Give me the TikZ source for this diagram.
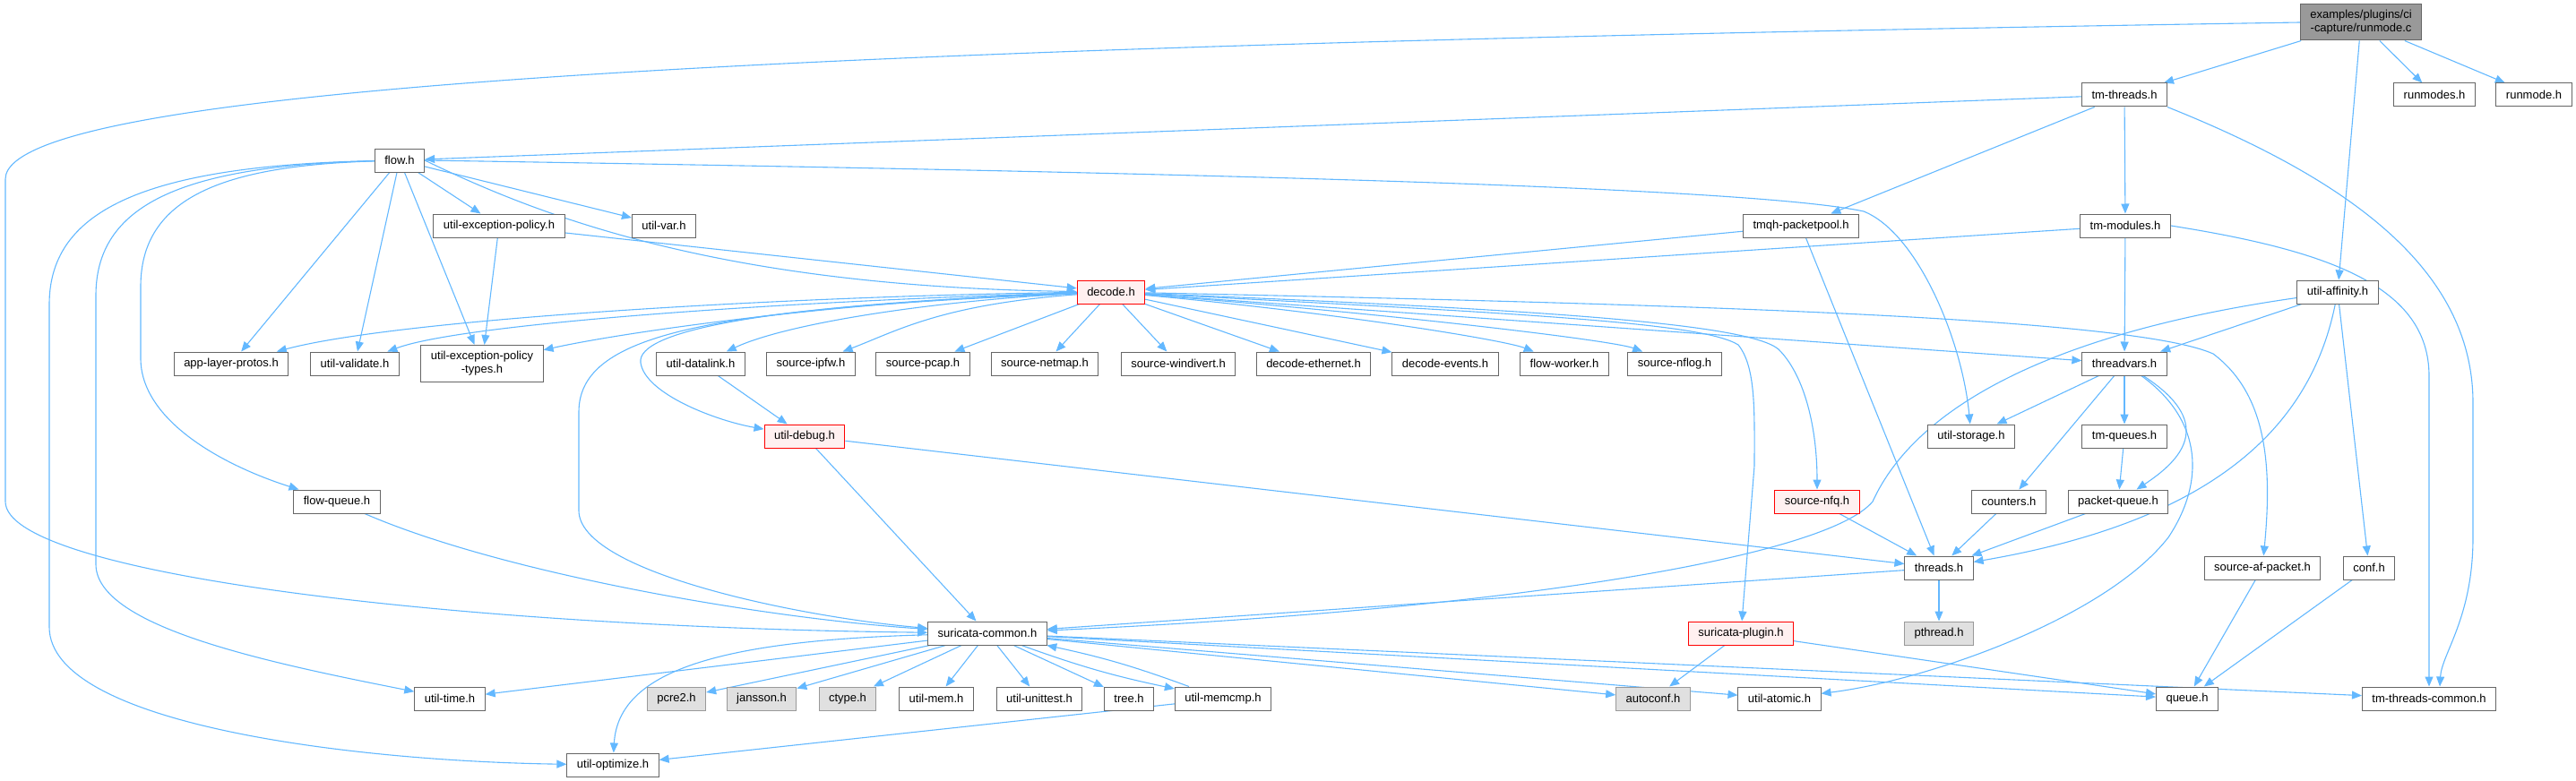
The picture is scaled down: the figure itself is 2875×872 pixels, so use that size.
\documentclass[tikz,border=0pt]{standalone}
\usepackage{fontspec}
\setmainfont{Liberation Sans}
\usepackage{tikz}
\usetikzlibrary{arrows.meta}
\usetikzlibrary{backgrounds}
\usepackage{xcolor}
\definecolor{ColEdge}{RGB}{99,184,255}
\definecolor{ColLine}{RGB}{102,102,102}
\definecolor{ColSys}{RGB}{224,224,224}
\definecolor{ColSysLine}{RGB}{153,153,153}
\definecolor{ColMark}{RGB}{255,240,240}
\tikzstyle{FileNode}=[draw=ColLine,fill=white,line width=0.5pt,inner xsep=5.5pt,inner ysep=0pt,
minimum height=13pt,align=center,font=\fontsize{6.5}{7.5}\selectfont]
\tikzstyle{SysNode}=[FileNode,draw=ColSysLine,fill=ColSys]
\tikzstyle{MarkNode}=[FileNode,draw=red,fill=ColMark]
\tikzstyle{RootNode}=[FileNode,fill=ColSysLine,minimum height=20pt]
\tikzstyle{DepEdge}=[ColEdge,line width=0.55pt,-{Triangle[length=5.5pt,width=4.5pt]}]

\begin{document}
\begin{tikzpicture}[x=0.5pt,y=-0.5pt]
        \useasboundingbox(0,0)rectangle(2875,872);
        % files, one rank per row
        \node[RootNode](root)at(2635,25){examples/plugins/ci\\-capture/runmode.c};
        \node[FileNode](tmthreads)at(2371,106){tm-threads.h};
        \node[FileNode](runmodes)at(2717,106){runmodes.h};
        \node[FileNode](runmodeh)at(2828,106){runmode.h};
        \node[FileNode](flow)at(446,179){flow.h};
        \node[FileNode](uep)at(557,252){util-exception-policy.h};
        \node[FileNode](utilvar)at(741,252){util-var.h};
        \node[FileNode](tmqh)at(2010,252){tmqh-packetpool.h};
        \node[FileNode](tmmodules)at(2372,252){tm-modules.h};
        \node[MarkNode](decode)at(1240,326){decode.h};
        \node[FileNode](affinity)at(2609,326){util-affinity.h};
        \node[FileNode](applayer)at(258,406){app-layer-protos.h};
        \node[FileNode](validate)at(396,406){util-validate.h};
        \node[FileNode,minimum height=20.5pt](ueptypes)at(538,406){util-exception-policy\\-types.h};
        \node[FileNode](datalink)at(782,406){util-datalink.h};
        \node[FileNode](ipfw)at(905,406){source-ipfw.h};
        \node[FileNode](pcap)at(1030,406){source-pcap.h};
        \node[FileNode](netmap)at(1166,406){source-netmap.h};
        \node[FileNode](windivert)at(1315,406){source-windivert.h};
        \node[FileNode](ethernet)at(1466,406){decode-ethernet.h};
        \node[FileNode](events)at(1613,406){decode-events.h};
        \node[FileNode](flowworker)at(1746,406){flow-worker.h};
        \node[FileNode](nflog)at(1869,406){source-nflog.h};
        \node[FileNode](threadvars)at(2371,406){threadvars.h};
        \node[MarkNode](debug)at(898,487){util-debug.h};
        \node[FileNode](storage)at(2200,487){util-storage.h};
        \node[FileNode](tmqueues)at(2371,487){tm-queues.h};
        \node[FileNode](flowqueue)at(376,560){flow-queue.h};
        \node[MarkNode](nfq)at(2028,560){source-nfq.h};
        \node[FileNode](counters)at(2242,560){counters.h};
        \node[FileNode](pktqueue)at(2364,560){packet-queue.h};
        \node[FileNode](threads)at(2164,634){threads.h};
        \node[FileNode](afpacket)at(2525,634){source-af-packet.h};
        \node[FileNode](conf)at(2644,634){conf.h};
        \node[FileNode](common)at(1102,707){suricata-common.h};
        \node[MarkNode](plugin)at(1943,707){suricata-plugin.h};
        \node[SysNode](pthread)at(2164,707){pthread.h};
        \node[FileNode](utiltime)at(502,780){util-time.h};
        \node[SysNode](pcre)at(755,780){pcre2.h};
        \node[SysNode](jansson)at(850,780){jansson.h};
        \node[SysNode](ctype)at(946,780){ctype.h};
        \node[FileNode](mem)at(1045,780){util-mem.h};
        \node[FileNode](unittest)at(1160,780){util-unittest.h};
        \node[FileNode](tree)at(1260,780){tree.h};
        \node[FileNode](memcmp)at(1365,780){util-memcmp.h};
        \node[SysNode](autoconf)at(1845,780){autoconf.h};
        \node[FileNode](atomic)at(1986,780){util-atomic.h};
        \node[FileNode](queue)at(2441,780){queue.h};
        \node[FileNode](tmcommon)at(2711,780){tm-threads-common.h};
        \node[FileNode](optimize)at(684,854){util-optimize.h};
        \begin{scope}[on background layer]
        % root file
        \draw[DepEdge](root)--(tmthreads);
        \draw[DepEdge](root)--(runmodes);
        \draw[DepEdge](root)--(runmodeh);
        \draw[DepEdge](root)--(affinity);
        \draw[DepEdge](root.west)..controls(1000,50)and(6,90)..(6,200)--(6,560)..controls(6,640)and(500,700)..(common);
        % tm-threads.h and tm-modules.h
        \draw[DepEdge](tmthreads)--(flow);
        \draw[DepEdge](tmthreads)--(tmqh);
        \draw[DepEdge](tmthreads)--(tmmodules);
        \draw[DepEdge](tmthreads.south east)..controls(2620,200)and(2760,300)..(2760,450)--(2760,600)..controls(2760,690)and(2725,730)..([xshift=6pt]tmcommon.north);
        \draw[DepEdge](tmmodules)--(decode);
        \draw[DepEdge](tmmodules)--(threadvars);
        \draw[DepEdge](tmmodules.east)..controls(2600,280)and(2711,320)..(2711,420)--(tmcommon.north);
        \draw[DepEdge](tmqh)--(decode);
        \draw[DepEdge](tmqh)--(threads);
        % flow.h
        \draw[DepEdge](flow)--(uep);
        \draw[DepEdge](flow)--(utilvar);
        \draw[DepEdge](flow)--(applayer);
        \draw[DepEdge](flow)--(validate);
        \draw[DepEdge](flow)--(ueptypes);
        \draw[DepEdge](flow.east)..controls(600,240)and(800,320)..(decode);
        \draw[DepEdge](flow.east)..controls(1300,192)and(1950,208)..(2080,236)..controls(2140,260)and(2190,380)..(storage);
        \draw[DepEdge](flow)..controls(250,185)and(157,220)..(157,320)--(157,400)..controls(157,470)and(250,520)..(flowqueue);
        \draw[DepEdge](flow)..controls(200,185)and(107,230)..(107,330)--(107,630)..controls(107,700)and(300,740)..(utiltime);
        \draw[DepEdge](flow)..controls(150,185)and(55,240)..(55,340)--(55,700)..controls(55,810)and(400,850)..(optimize);
        \draw[DepEdge](uep)--(ueptypes);
        \draw[DepEdge](uep)--(decode);
        % decode.h
        \draw[DepEdge](decode)..controls(900,330)and(450,355)..(applayer);
        \draw[DepEdge](decode)..controls(900,335)and(520,360)..(validate);
        \draw[DepEdge](decode)..controls(950,335)and(700,370)..(ueptypes);
        \draw[DepEdge](decode)..controls(1050,335)and(880,360)..(datalink);
        \draw[DepEdge](decode)..controls(1050,340)and(1000,370)..(ipfw);
        \draw[DepEdge](decode)--(pcap);
        \draw[DepEdge](decode)--(netmap);
        \draw[DepEdge](decode)--(windivert);
        \draw[DepEdge](decode)--(ethernet);
        \draw[DepEdge](decode)--(events);
        \draw[DepEdge](decode)..controls(1500,350)and(1680,380)..(flowworker);
        \draw[DepEdge](decode)..controls(1550,350)and(1800,380)..(nflog);
        \draw[DepEdge](decode)--(threadvars);
        \draw[DepEdge](decode)..controls(1900,340)and(2380,355)..(2470,395)..controls(2530,440)and(2536,520)..(afpacket);
        \draw[DepEdge](decode)..controls(1700,345)and(1950,360)..(1985,390)..controls(2015,420)and(2028,480)..(nfq);
        \draw[DepEdge](decode)..controls(1700,350)and(1900,360)..(1940,385)..controls(1960,410)and(1958,460)..(1958,520)--(plugin);
        \draw[DepEdge](decode)..controls(850,340)and(710,370)..(715,405)..controls(720,440)and(800,470)..(debug);
        \draw[DepEdge](decode)..controls(800,345)and(646,370)..(646,460)--(646,570)..controls(646,640)and(900,690)..(common);
        \draw[DepEdge](datalink)--(debug);
        \draw[DepEdge](debug)--(common);
        \draw[DepEdge](debug)--(threads);
        \draw[DepEdge](flowqueue)..controls(560,640)and(850,690)..(common);
        % util-affinity.h and threadvars.h
        \draw[DepEdge](affinity)--(threadvars);
        \draw[DepEdge](affinity)..controls(2580,470)and(2480,580)..(threads);
        \draw[DepEdge](affinity)--(conf);
        \draw[DepEdge](affinity)..controls(2300,370)and(2140,450)..(2090,560)..controls(2040,620)and(1700,680)..(common);
        \draw[DepEdge](threadvars)--(storage);
        \draw[DepEdge](threadvars)--(counters);
        \draw[DepEdge](threadvars)--(tmqueues);
        \draw[DepEdge](threadvars)..controls(2470,470)and(2440,510)..(pktqueue);
        \draw[DepEdge](threadvars)..controls(2460,470)and(2460,540)..(2420,600)..controls(2350,690)and(2150,760)..(atomic);
        \draw[DepEdge](tmqueues)--(pktqueue);
        \draw[DepEdge](nfq)--(threads);
        \draw[DepEdge](counters)--(threads);
        \draw[DepEdge](pktqueue)--(threads);
        \draw[DepEdge](threads)--(pthread);
        \draw[DepEdge](threads)--(common);
        \draw[DepEdge](afpacket)--(queue);
        \draw[DepEdge](conf)--(queue);
        \draw[DepEdge](plugin)--(autoconf);
        \draw[DepEdge](plugin)--(queue);
        % suricata-common.h
        \draw[DepEdge](common)--(utiltime);
        \draw[DepEdge](common)..controls(800,715)and(690,750)..(optimize);
        \draw[DepEdge](common)--(pcre);
        \draw[DepEdge](common)--(jansson);
        \draw[DepEdge](common)--(ctype);
        \draw[DepEdge](common)--(mem);
        \draw[DepEdge](common)--(unittest);
        \draw[DepEdge](common)--(tree);
        \draw[DepEdge](common)to[bend right=4](memcmp);
        \draw[DepEdge](common)--(autoconf);
        \draw[DepEdge](common)--(atomic);
        \draw[DepEdge](common)--(queue);
        \draw[DepEdge](common)--(tmcommon);
        \draw[DepEdge](memcmp)to[bend right=4](common);
        \draw[DepEdge](memcmp)--(optimize);
        \end{scope}
    \end{tikzpicture}
\end{document}
